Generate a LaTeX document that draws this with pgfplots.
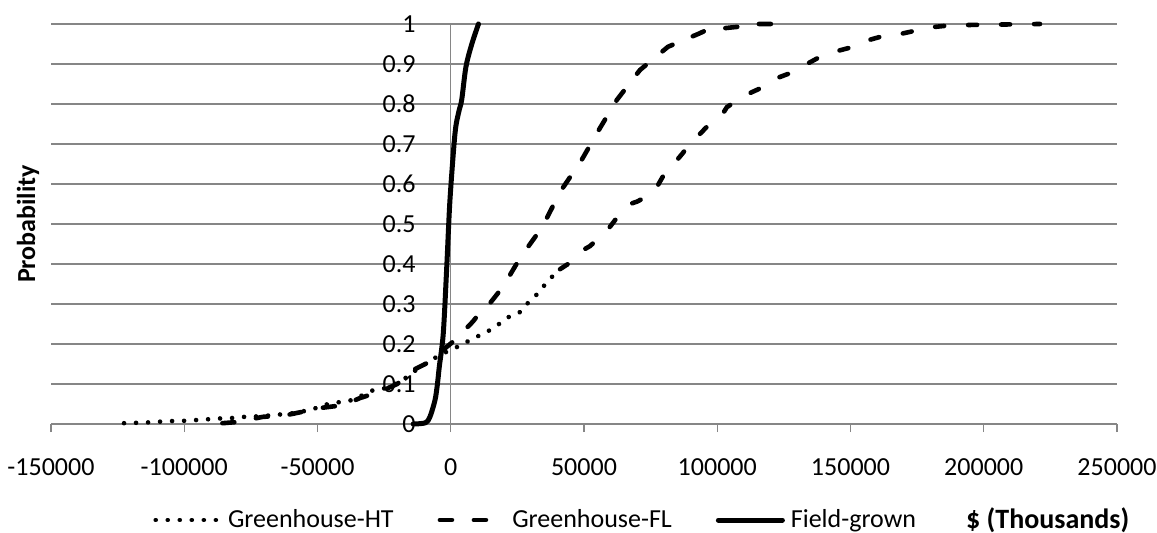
\documentclass[border=0pt]{standalone}
\usepackage{pgfplots}
\pgfplotsset{compat=1.18}
\usepackage{fontspec}
\setmainfont{Carlito}
\usetikzlibrary{calc}
\definecolor{gridgray}{RGB}{134,134,134}
\newcommand{\lblfont}{\fontsize{13}{15.6}\selectfont}
\newcommand{\ttlfont}{\fontsize{14}{16.8}\selectfont}
\begin{document}
\begin{tikzpicture}
\begin{axis}[name=ax,
  scale only axis, width=533pt, height=200pt,
  xmin=-150000, xmax=250000, ymin=0, ymax=1,
  axis x line*=bottom, axis y line*=left,
  x axis line style={draw=gridgray, line width=0.6pt},
  y axis line style={draw=none},
  scaled x ticks=false, scaled y ticks=false,
  xtick={-150000,-100000,-50000,0,50000,100000,150000,200000,250000},
  xticklabels={-150000,-100000,-50000,0,50000,100000,150000,200000,250000},
  ytick={0,0.1,0.2,0.3,0.4,0.5,0.6,0.7,0.8,0.9,1},
  yticklabels={0,0.1,0.2,0.3,0.4,0.5,0.6,0.7,0.8,0.9,1},
  ymajorgrids, grid style={gridgray, line width=0.6pt},
  major tick length=4pt, tick align=outside,
  xtick style={draw=gridgray, line width=0.6pt},
  ytick style={draw=none},
  tick label style={font=\lblfont, text=black},
  xticklabel style={yshift=-10pt},
  yticklabel style={anchor=east, inner sep=0pt, xshift=186.5pt},
  ylabel={\textbf{Probability}},
  ylabel style={at={(axis description cs:-0.0216,0.5)}, anchor=center, font=\lblfont},
  xlabel={\textbf{\$ (Thousands)}},
  xlabel style={at={(axis description cs:0.935,-0.24)}, anchor=center, font=\ttlfont},
  legend style={at={(axis description cs:0.0957,-0.24)}, anchor=west, draw=none, fill=none,
    inner sep=0pt, legend columns=3, font=\lblfont,
    /tikz/every even column/.append style={column sep=20pt},
    /tikz/every odd column/.append style={column sep=1pt}},
  legend cell align=left,
  legend image code/.code={\draw[#1] (0pt,0pt) -- (32pt,0pt);},
  clip=false,
]
\draw[gridgray, line width=0.6pt] (axis cs:0,0) -- (axis cs:0,1);

% Greenhouse-HT, lower (dotted) part
\addplot[black, line width=2.3pt, line cap=round, dash pattern=on 0.01pt off 6pt] coordinates {
(-122600,0.002) (-117800,0.003) (-113300,0.004) (-108800,0.006) (-104300,0.0075)
(-100000,0.008) (-95300,0.01) (-90700,0.012) (-86200,0.014) (-82000,0.015)
(-77200,0.018) (-72800,0.019) (-66700,0.022) (-59200,0.027) (-52800,0.035)
(-46500,0.049) (-42400,0.054) (-36700,0.06) (-29900,0.083) (-24000,0.09)
(-18000,0.11) (-12000,0.14) (-6000,0.165) (-260,0.185) (1600,0.19)
(4700,0.2) (8300,0.214) (12200,0.225) (16000,0.24) (19400,0.256)
(22500,0.271) (26000,0.28) (29400,0.306) (32800,0.327) (35400,0.349)
(38000,0.368) (41000,0.387)
};
\addlegendentry{Greenhouse-HT}

\addplot[black, line width=2.3pt, line cap=round, dash pattern=on 6pt off 11pt] coordinates {
(-85700,0.002) (-80100,0.005) (-70400,0.018) (-63200,0.02) (-55300,0.031)
(-49000,0.04) (-40400,0.047) (-34000,0.065) (-26500,0.081) (-20100,0.10)
(-14100,0.135) (-6600,0.16) (-2900,0.185) (1600,0.21) (2700,0.218)
(8300,0.256) (10300,0.273) (12100,0.28) (19600,0.343) (26000,0.415)
(34400,0.493) (41000,0.58) (49100,0.66) (56000,0.74) (62300,0.81)
(71000,0.885) (81500,0.943) (93500,0.977) (96000,0.985) (107800,0.993)
(111600,1.0) (126600,1.0)
};
\addlegendentry{Greenhouse-FL}

\addplot[black, line width=2.5pt, line cap=round, smooth] coordinates {
(-14100,0) (-9500,0.003) (-7800,0.018) (-5900,0.06) (-5000,0.1)
(-4300,0.143) (-2800,0.227) (-1500,0.393) (-300,0.56) (1600,0.727)
(3000,0.78) (4100,0.81) (5700,0.893) (7900,0.95) (10400,1.0)
};
\addlegendentry{Field-grown}

% Greenhouse-HT, upper part (drawn as short dashes, as in the original)
\addplot[black, line width=2.3pt, line cap=round, dash pattern=on 4.5pt off 12pt, forget plot] coordinates {
(41000,0.387) (44000,0.4) (46600,0.41) (49700,0.435)
(52300,0.445) (56000,0.468) (58000,0.478) (61700,0.51) (63500,0.523)
(67300,0.55) (69900,0.556) (74800,0.573) (76700,0.585) (79700,0.62)
(81600,0.633) (84900,0.66) (86800,0.675) (90400,0.706) (92300,0.717)
(96100,0.743) (97900,0.753) (102200,0.777) (103600,0.792) (105400,0.80)
(109200,0.818) (116100,0.839) (120500,0.86) (127300,0.877) (131700,0.893)
(138600,0.918) (143600,0.93) (151100,0.943) (154800,0.956) (162300,0.97)
(168000,0.974) (175500,0.985) (180500,0.992) (188000,0.997) (200000,0.998)
(221100,1.0)
};
\end{axis}
\pgfresetboundingbox
\path[use as bounding box] ($(ax.south west)+(-25.5pt,-54.5pt)$) rectangle ($(ax.north east)+(20pt,12pt)$);
\end{tikzpicture}
\end{document}
